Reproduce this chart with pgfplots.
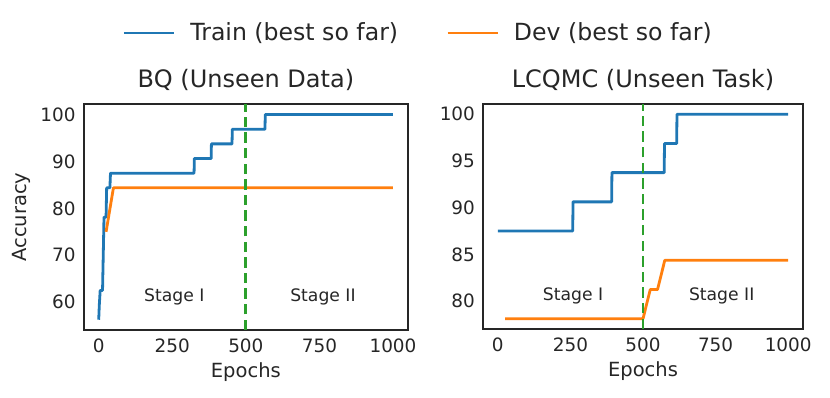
\documentclass[border=0pt]{standalone}
\usepackage{pgfplots}
\pgfplotsset{compat=1.18}
\usepackage{fontspec}
\setmainfont{DejaVu Sans}
\definecolor{tabblue}{HTML}{1F77B4}
\definecolor{taborange}{HTML}{FF7F0E}
\definecolor{tabgreen}{HTML}{2CA02C}
\definecolor{txt}{HTML}{262626}
\pgfplotsset{
  stdax/.style={
    scale only axis,
    xmin=-50, xmax=1050,
    xtick={0,250,500,750,1000},
    major tick length=0pt,
    axis line style={draw=txt, line width=1.1pt},
    tick label style={font=\fontsize{9.2}{11}\selectfont, text=txt},
    /pgf/number format/assume math mode=true,
    /pgf/number format/1000 sep={},
    yticklabel style={inner sep=0pt, xshift=-4pt},
    xticklabel style={inner sep=0pt, yshift=-4pt},
    label style={font=\fontsize{9.75}{11.7}\selectfont, text=txt},
    xlabel={Epochs},
    xlabel style={at={(0.5,0)}, anchor=center, yshift=-21pt},
    every axis title/.style={font=\fontsize{12}{14.4}\selectfont, text=txt, at={(0.5,1)}, anchor=center, yshift=12.2pt},
    clip=false,
  },
  trainline/.style={tabblue, line width=1.4pt, line join=round},
  devline/.style={taborange, line width=1.4pt, line join=round},
  stageline/.style={tabgreen, line width=1.4pt, dash pattern=on 5.2pt off 2.6pt},
}
\begin{document}
\begin{tikzpicture}
\useasboundingbox (0,0) rectangle (415pt,198.5pt);
\begin{axis}[stdax,
  at={(42pt,33.5pt)}, anchor=south west,
  width=161.85pt, height=112.85pt,
  ymin=54.06, ymax=102.19,
  ytick={60,70,80,90,100},
  title={BQ (Unseen Data)},
  ylabel={Accuracy},
  ylabel style={at={(-0.1925,0.5)}, anchor=center},
  legend columns=2,
  legend style={at={(1.0293,1.316)}, anchor=center, draw=none, fill=none,
    font=\fontsize{11.8}{14}\selectfont, text=txt,
    nodes={inner sep=0pt},
    /tikz/every odd column/.append style={column sep=7.5pt},
    /tikz/every even column/.append style={column sep=24pt}},
  legend image code/.code={\draw[#1] (0pt,0pt) -- (25pt,0pt);},
]
\addplot[trainline] coordinates {
(0,56.25) (2,59.375) (5,62.5) (13,62.5) (18,78.125) (25,78.125) (27,84.375) (38,84.375)
(40,87.5) (324,87.5) (325,90.625) (382,90.625) (383,93.75) (453,93.75) (454,96.875)
(565,96.875) (566,100) (1000,100)};
\addlegendentry{Train (best so far)}
\addplot[devline] coordinates {(25,75) (50,84.375) (1000,84.375)};
\addlegendentry{Dev (best so far)}
\addplot[stageline, forget plot] coordinates {(500,54.06) (500,102.19)};
\node[font=\fontsize{8.6}{10}\selectfont, text=txt] at (axis cs:257,61.2) {Stage I};
\node[font=\fontsize{8.6}{10}\selectfont, text=txt] at (axis cs:762,61.2) {Stage II};
\end{axis}
\begin{axis}[stdax,
  at={(241.65pt,34pt)}, anchor=south west,
  width=159.7pt, height=112.5pt,
  ymin=77.03, ymax=101.09,
  ytick={80,85,90,95,100},
  title={LCQMC (Unseen Task)},
]
\addplot[trainline] coordinates {
(0,87.5) (258,87.5) (259,90.625) (392,90.625) (393,93.75) (573,93.75) (574,96.875)
(616,96.875) (617,100) (1000,100)};
\addplot[devline] coordinates {(25,78.125) (500,78.125) (525,81.25) (550,81.25) (575,84.375) (1000,84.375)};
\addplot[stageline] coordinates {(500,77.03) (500,101.09)};
\node[font=\fontsize{8.6}{10}\selectfont, text=txt] at (axis cs:259,80.55) {Stage I};
\node[font=\fontsize{8.6}{10}\selectfont, text=txt] at (axis cs:771,80.55) {Stage II};
\end{axis}
\end{tikzpicture}
\end{document}
